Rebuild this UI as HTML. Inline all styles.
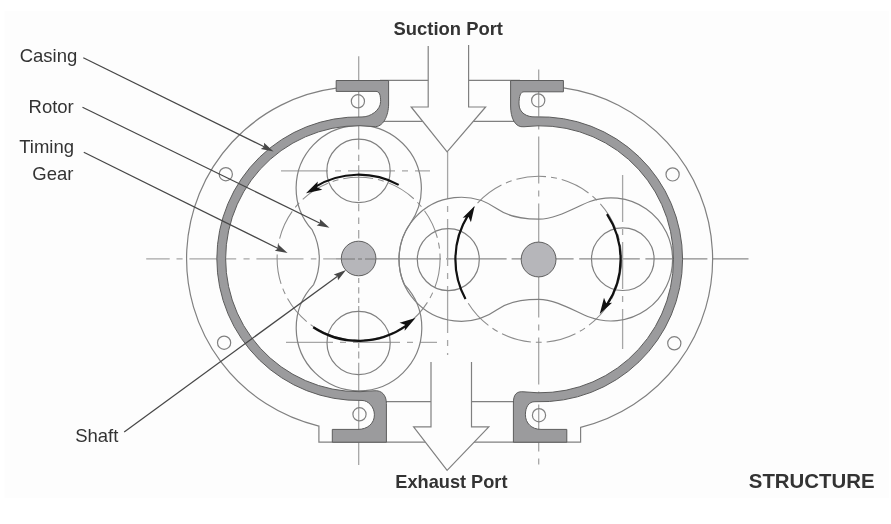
<!DOCTYPE html>
<html><head><meta charset="utf-8"><title>Structure</title>
<style>html,body{margin:0;padding:0;background:#fff;width:891px;height:524px;overflow:hidden}svg{display:block;filter:blur(0.35px)}</style>
</head><body>
<svg width="891" height="524" viewBox="0 0 891 524">
<rect width="891" height="524" fill="#ffffff"/>
<rect x="4.5" y="11" width="884.5" height="487" fill="#fdfdfd"/>
<path d="M 146.2 258.9 H 169.7 M 176.5 258.9 H 182.6 M 189.4 258.9 H 236.2 M 243.5 258.9 H 249.6 M 256.4 258.9 H 303.5 M 310.8 258.9 H 316.4 M 323.2 258.9 H 336" stroke="#a6a6a6" stroke-width="1.4" fill="none"/>
<path d="M 336 258.9 H 441 M 446 258.9 H 506.6 M 511.6 258.9 H 573.6 M 579.2 258.9 H 639.8 M 645.4 258.9 H 707.4 M 712.3 258.9 H 748.5" stroke="#8a8a8a" stroke-width="1.2" fill="none"/>
<path d="M 358.7 56.3 V 149.4 M 358.7 154.7 V 161 M 358.7 165.2 V 201 M 358.7 204 V 211.3 M 358.7 217.6 V 224 M 358.7 230 V 238.6 M 358.7 278 V 283 M 358.7 287.3 V 293.6 M 358.7 297.8 V 303 M 358.7 306 V 348 M 358.7 351.5 V 358.6 M 358.7 362.8 V 465" stroke="#a6a6a6" stroke-width="1.3" fill="none"/>
<g stroke="#a6a6a6" stroke-width="1.3" fill="none" stroke-dasharray="47 7 6 7">
<path d="M 538.7 69.6 V 465"/>
<path d="M 447.6 152 V 355"/>
<path d="M 281 170.9 H 430"/>
<path d="M 286 342.4 H 437"/>
<path d="M 622.6 175 V 349"/>
</g>
<g stroke="#8c8c8c" stroke-width="1.05" fill="none" stroke-dasharray="30 5 6 5">
<circle cx="358.6" cy="258.7" r="81.5"/>
<circle cx="538.6" cy="259.3" r="83"/>
</g>
<g stroke="#808080" stroke-width="1.2" fill="none">
<path d="M 336.2 88.16 A 172 172 0 0 0 318.9 426.06 L 318.9 442.2 L 580.6 442.2 L 580.6 427.37 A 173 173 0 0 0 563.4 87.94"/>
<path d="M 380 80.4 H 520 M 380 121.4 H 520 M 380 401.6 H 520"/>
<path d="M 410.1 223.77 A 62.6 62.6 0 1 0 312.23 229.94 A 62 62 0 0 1 313.65 284.56 A 62.8 62.8 0 1 0 404.49 284.7 A 62 62 0 0 1 410.1 223.77 Z"/>
<path d="M 497 208.82 C 508.4 216.95, 522.7 219.2, 538.7 219.2 C 556.7 219.2, 576.84 206.26, 590 201.49 A 61.6 61.6 0 1 1 590 317.31 C 576.84 312.54, 556.7 299.4, 538.7 299.4 C 522.7 299.4, 508.4 301.65, 497 309.78 A 62 62 0 1 1 497 208.82 Z"/>
<circle cx="358.5" cy="170.9" r="31.7"/>
<circle cx="358.6" cy="343" r="31.6"/>
<circle cx="448.3" cy="259.6" r="31"/>
<circle cx="622.8" cy="259.2" r="31.3"/>
<circle cx="357.9" cy="101.3" r="6.6"/>
<circle cx="538.2" cy="100.4" r="6.6"/>
<circle cx="359.5" cy="414.3" r="6.6"/>
<circle cx="539" cy="415.2" r="6.6"/>
<circle cx="225.8" cy="174.2" r="6.6"/>
<circle cx="224.1" cy="342.7" r="6.6"/>
<circle cx="672.6" cy="174.4" r="6.6"/>
<circle cx="674.3" cy="343.3" r="6.6"/>
</g>
<g stroke="#808080" stroke-width="1.2" fill="#fdfdfd" stroke-linejoin="miter">
<path d="M 428.2 46 V 107 H 411.2 L 447.1 151.8 L 485.6 107 H 468.6 V 45"/>
<path d="M 431 362 V 426.9 H 413.6 L 447.1 470.3 L 488.8 426.9 H 471.5 V 362"/>
</g>
<g fill="#9b9b9d" stroke="#5c5c5c" stroke-width="1" stroke-linejoin="round">
<path d="M 336.2 80.5 H 388.6 V 104 C 388.6 116, 382.94 127.64, 374 126.59 A 133 133 0 1 0 374 390.81 C 381.95 389.88, 386.4 395.5, 386.4 403.5 V 442.2 H 332.3 V 429.4 H 358 C 367.5 429.4, 374.4 423.5, 374.4 414.8 C 374.4 406.8, 368 400.32, 362 400.46 A 141.8 141.8 0 1 1 362 116.94 C 370 117.13, 380.6 110.5, 380.6 101.5 C 380.6 95, 379.5 91.4, 376 91.4 H 336.2 Z"/>
<path d="M 563.4 80.5 H 510.6 V 106 C 510.6 118, 515.06 127.84, 524 126.76 A 133.5 133.5 0 1 1 524 391.84 C 516.06 390.88, 513.4 395, 513.4 403 V 442.2 H 566.8 V 429.4 H 541 C 531.5 429.4, 525.4 423, 525.4 414.8 C 525.4 406.8, 529 401.5, 535 401.71 A 142.5 142.5 0 1 0 535 116.89 C 527 117.17, 519 113, 519 104 C 519.0 96, 520.5 91.8, 524 91.8 H 563.4 Z"/>
</g>
<g stroke="#808080" stroke-width="1.2" fill="none">
</g>
<g fill="#b6b6ba" stroke="#5e5e5e" stroke-width="1">
<circle cx="358.6" cy="258.5" r="17.3"/>
<circle cx="538.6" cy="259.5" r="17.4"/>
</g>
<path d="M 341 259 H 376" stroke="#777" stroke-width="1" stroke-dasharray="14 3 4 3"/>
<g>
<path d="M 398.68 184.88 A 84 84 0 0 0 315.14 186.82" stroke="#111" stroke-width="2.2" fill="none"/>
<path d="M 305.97 193.24 L 317.8 181.48 L 316.96 187.28 L 322.27 189.75 Z" fill="#111"/>
<path d="M 313.23 327.25 A 82.2 82.2 0 0 0 406.91 325.21" stroke="#111" stroke-width="2.2" fill="none"/>
<path d="M 415.49 318.03 L 404.68 330.72 L 405.04 324.87 L 399.53 322.86 Z" fill="#111"/>
<path d="M 465.48 299 A 83.2 83.2 0 0 1 468.11 215.1" stroke="#111" stroke-width="2.2" fill="none"/>
<path d="M 474.68 206.04 L 470.94 222.29 L 468.56 216.94 L 462.74 217.69 Z" fill="#111"/>
<path d="M 606.98 214.04 A 82 82 0 0 1 606.6 305.12" stroke="#111" stroke-width="2.2" fill="none"/>
<path d="M 599.73 313.96 L 603.99 297.83 L 606.2 303.26 L 612.03 302.7 Z" fill="#111"/>
</g>
<g>
<path d="M 83.3 57.8 L 264.18 146.77" stroke="#474747" stroke-width="1.25" fill="none"/>
<path d="M 273.6 151.4 L 260.79 149.11 L 264.18 146.77 L 263.97 142.65 Z" fill="#474747"/>
<path d="M 82.5 107.3 L 320.06 223.2" stroke="#474747" stroke-width="1.25" fill="none"/>
<path d="M 329.5 227.8 L 316.69 225.55 L 320.06 223.2 L 319.84 219.08 Z" fill="#474747"/>
<path d="M 83.8 152.3 L 278.19 248.44" stroke="#474747" stroke-width="1.25" fill="none"/>
<path d="M 287.6 253.1 L 274.8 250.79 L 278.19 248.44 L 277.99 244.33 Z" fill="#474747"/>
<path d="M 124.2 431.9 L 337.52 276.19" stroke="#474747" stroke-width="1.25" fill="none"/>
<path d="M 346 270 L 338.03 280.28 L 337.52 276.19 L 333.78 274.46 Z" fill="#474747"/>
</g>
<g font-family="Liberation Sans, sans-serif" fill="#333">
<text x="77.3" y="61.8" font-size="18.5" text-anchor="end">Casing</text>
<text x="73.8" y="112.5" font-size="18.5" text-anchor="end">Rotor</text>
<text x="74" y="153" font-size="18.5" text-anchor="end">Timing</text>
<text x="73.5" y="180.1" font-size="18.5" text-anchor="end">Gear</text>
<text x="75.2" y="441.9" font-size="18.5">Shaft</text>
<text x="393.6" y="35.2" font-size="18.4" font-weight="bold">Suction Port</text>
<text x="395.3" y="488.2" font-size="18.2" font-weight="bold">Exhaust Port</text>
<text x="748.8" y="487.6" font-size="20.4" font-weight="bold">STRUCTURE</text>
</g>
</svg>
</body></html>
